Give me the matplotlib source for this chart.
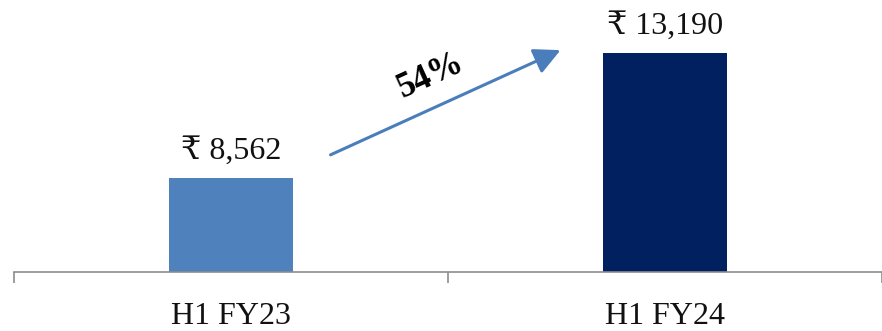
import matplotlib
matplotlib.use("Agg")
import matplotlib.pyplot as plt

# Revenue for the first half of each fiscal year (₹ crore)
periods = ["H1 FY23", "H1 FY24"]
revenue = [8562, 13190]
growth_label = "54%"
bar_colors = ["#4F81BD", "#002060"]

FONT = ["Liberation Serif", "DejaVu Serif", "DejaVu Sans"]

W, H = 882, 331
fig = plt.figure(figsize=(W / 100, H / 100), dpi=100)
ax = fig.add_axes([14 / W, (H - 272) / H, 1 - 14 / W, 272 / H])

x = list(range(len(periods)))
ax.bar(x, revenue, width=0.284, color=bar_colors, zorder=2)
ax.set_xlim(-0.5, 1.47)
ax.set_ylim(5084, 15154)

for xi, v in zip(x, revenue):
    ax.annotate(f"₹ {v:,}", (xi, v), xytext=(0, 9), textcoords="offset points",
                ha="center", va="bottom", fontsize=23, family=FONT, color="#111111")

# axis styling: only the baseline with category separators
for side in ["left", "right", "top"]:
    ax.spines[side].set_visible(False)
ax.spines["bottom"].set_color("#8c8c8c")
ax.spines["bottom"].set_linewidth(1.2)
ax.set_yticks([])
ax.set_xticks([-0.5, 0.5, 1.5])
ax.set_xticklabels([])
ax.tick_params(axis="x", length=8, width=1.2, color="#8c8c8c", direction="out")
for xi, lab in zip(x, periods):
    ax.text(xi, -0.165, lab, transform=ax.get_xaxis_transform(), ha="center", va="center",
            fontsize=23, family=FONT, color="#111111")

# growth arrow between the bars
p0 = (328 / W, 1 - 156 / H)
p1 = (563 / W, 1 - 49 / H)
fig.add_artist(matplotlib.patches.FancyArrowPatch(
    p0, p1, transform=fig.transFigure, arrowstyle="-|>,head_length=10,head_width=5",
    color="#4A7EBB", linewidth=2.2, mutation_scale=1.6))
fig.text(431 / W, 1 - 76 / H, growth_label, rotation=24.4, ha="center", va="center",
         fontsize=25, fontweight="bold", family=FONT, color="#000000")

fig.savefig("out.png", dpi=100)
